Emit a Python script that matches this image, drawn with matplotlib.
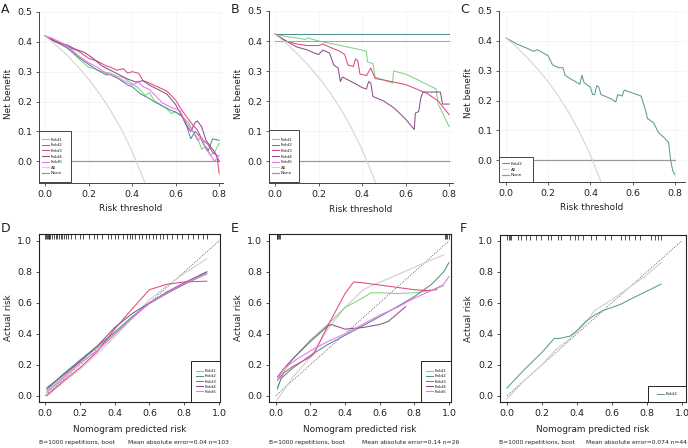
import matplotlib
matplotlib.use('Agg')
import matplotlib.pyplot as plt
from matplotlib.patches import Rectangle

plt.rcParams['font.family'] = 'DejaVu Sans'

W, H = 688, 448

fold_names = ['Fold1', 'Fold2', 'Fold3', 'Fold4', 'Fold5']
fold_colors = {'Fold1': '#7ed47e', 'Fold2': '#4f8f8f', 'Fold3': '#e04a7c',
               'Fold4': '#8c4f8c', 'Fold5': '#f36ef3'}
all_color = '#d2d2d2'
none_color = '#9a9a9a'
text_color = '#222222'

# ---- decision curves (net benefit vs risk threshold) ----
none_x = [0.0, 0.8]
none_y = [0.0, 0.0]

# panel A
a_fold1_x = [0, 0.03, 0.06, 0.1, 0.13, 0.16, 0.2, 0.23, 0.26, 0.3, 0.33, 0.36, 0.4, 0.43, 0.46, 0.48,
             0.5, 0.53, 0.56, 0.58, 0.6, 0.63, 0.66, 0.68, 0.7, 0.72, 0.74, 0.76, 0.78, 0.8]
a_fold1_y = [0.42, 0.405, 0.395, 0.38, 0.36, 0.34, 0.315, 0.31, 0.30, 0.295, 0.285, 0.28, 0.26, 0.245,
             0.22, 0.23, 0.205, 0.19, 0.175, 0.16, 0.165, 0.15, 0.13, 0.1, 0.08, 0.04, 0.05, 0.02, 0.03, 0.06]
a_fold2_x = [0, 0.04, 0.08, 0.12, 0.16, 0.2, 0.24, 0.28, 0.3, 0.34, 0.38, 0.4, 0.44, 0.48, 0.5, 0.54,
             0.58, 0.6, 0.63, 0.65, 0.67, 0.69, 0.71, 0.73, 0.75, 0.77, 0.8]
a_fold2_y = [0.42, 0.405, 0.39, 0.37, 0.345, 0.325, 0.305, 0.29, 0.29, 0.275, 0.255, 0.25, 0.225, 0.21,
             0.2, 0.185, 0.17, 0.165, 0.15, 0.12, 0.075, 0.1, 0.085, 0.055, 0.035, 0.075, 0.07]
a_fold3_x = [0, 0.05, 0.1, 0.15, 0.2, 0.24, 0.28, 0.3, 0.33, 0.36, 0.38, 0.4, 0.43, 0.45, 0.47, 0.5,
             0.53, 0.56, 0.6, 0.63, 0.66, 0.68, 0.7, 0.72, 0.75, 0.77, 0.79, 0.8]
a_fold3_y = [0.42, 0.40, 0.385, 0.37, 0.345, 0.335, 0.32, 0.315, 0.305, 0.31, 0.295, 0.30, 0.295, 0.27,
             0.265, 0.255, 0.245, 0.235, 0.205, 0.17, 0.14, 0.12, 0.105, 0.075, 0.055, 0.03, 0.02, -0.04]
a_fold4_x = [0, 0.05, 0.1, 0.14, 0.18, 0.22, 0.26, 0.3, 0.34, 0.38, 0.42, 0.45, 0.48, 0.52, 0.56, 0.6,
             0.63, 0.65, 0.67, 0.69, 0.7, 0.72, 0.74, 0.76, 0.78, 0.8]
a_fold4_y = [0.42, 0.40, 0.39, 0.375, 0.365, 0.345, 0.32, 0.305, 0.29, 0.275, 0.265, 0.27, 0.255, 0.24,
             0.225, 0.19, 0.15, 0.12, 0.10, 0.13, 0.135, 0.115, 0.07, 0.05, 0.03, 0.0]
a_fold5_x = [0, 0.04, 0.08, 0.12, 0.16, 0.2, 0.24, 0.28, 0.32, 0.36, 0.4, 0.43, 0.45, 0.48, 0.5, 0.54,
             0.58, 0.6, 0.62, 0.64, 0.66, 0.68, 0.7, 0.72, 0.74, 0.76, 0.78, 0.8]
a_fold5_y = [0.42, 0.41, 0.395, 0.375, 0.35, 0.33, 0.315, 0.295, 0.285, 0.27, 0.255, 0.265, 0.25, 0.24,
             0.225, 0.195, 0.18, 0.175, 0.17, 0.14, 0.12, 0.1, 0.07, 0.08, 0.04, 0.02, 0.0, 0.02]
a_all_x = [0, 0.05, 0.1, 0.15, 0.2, 0.25, 0.3, 0.35, 0.4, 0.45, 0.46]
a_all_y = [0.42, 0.389, 0.356, 0.318, 0.275, 0.227, 0.171, 0.108, 0.033, -0.055, -0.074]

# panel B
b_fold1_x = [0, 0.05, 0.1, 0.14, 0.15, 0.2, 0.3, 0.4, 0.42, 0.425, 0.45, 0.46, 0.5, 0.54, 0.545,
             0.6, 0.7, 0.74, 0.75, 0.8]
b_fold1_y = [0.423, 0.415, 0.41, 0.405, 0.41, 0.40, 0.385, 0.37, 0.365, 0.33, 0.325, 0.28, 0.27, 0.26,
             0.30, 0.29, 0.255, 0.24, 0.19, 0.115]
b_fold2_x = [0, 0.8]
b_fold2_y = [0.423, 0.423]
b_fold3_x = [0, 0.05, 0.1, 0.15, 0.2, 0.22, 0.25, 0.3, 0.32, 0.335, 0.36, 0.37, 0.38, 0.39, 0.42, 0.44,
             0.46, 0.5, 0.6, 0.7, 0.75, 0.8]
b_fold3_y = [0.423, 0.40, 0.39, 0.385, 0.385, 0.39, 0.38, 0.365, 0.355, 0.32, 0.315, 0.34, 0.335, 0.29,
             0.285, 0.31, 0.275, 0.27, 0.255, 0.225, 0.20, 0.155]
b_fold4_x = [0, 0.05, 0.1, 0.15, 0.18, 0.2, 0.22, 0.25, 0.27, 0.29, 0.3, 0.31, 0.35, 0.4, 0.42, 0.43,
             0.44, 0.45, 0.5, 0.55, 0.6, 0.64, 0.645, 0.66, 0.67, 0.68, 0.76, 0.77, 0.8]
b_fold4_y = [0.423, 0.40, 0.38, 0.37, 0.36, 0.355, 0.37, 0.36, 0.32, 0.31, 0.265, 0.28, 0.265, 0.245,
             0.24, 0.265, 0.26, 0.215, 0.20, 0.175, 0.14, 0.105, 0.16, 0.165, 0.21, 0.23, 0.23, 0.19, 0.19]
b_fold5_x = [0, 0.8]
b_fold5_y = [0.40, 0.40]
b_all_x = [0, 0.05, 0.1, 0.15, 0.2, 0.25, 0.3, 0.35, 0.4, 0.45, 0.465]
b_all_y = [0.423, 0.393, 0.359, 0.321, 0.279, 0.231, 0.176, 0.112, 0.038, -0.049, -0.078]

# panel C
c_fold2_x = [0, 0.05, 0.1, 0.13, 0.15, 0.2, 0.22, 0.25, 0.27, 0.28, 0.3, 0.35, 0.36, 0.37, 0.4, 0.41,
             0.42, 0.43, 0.44, 0.45, 0.5, 0.52, 0.53, 0.55, 0.56, 0.6, 0.64, 0.66, 0.67, 0.7, 0.72,
             0.75, 0.77, 0.78, 0.79, 0.8]
c_fold2_y = [0.41, 0.39, 0.375, 0.365, 0.37, 0.35, 0.32, 0.31, 0.31, 0.285, 0.275, 0.255, 0.285, 0.26,
             0.245, 0.22, 0.22, 0.25, 0.245, 0.22, 0.205, 0.195, 0.22, 0.215, 0.235, 0.225, 0.215, 0.17,
             0.14, 0.125, 0.095, 0.075, 0.06, 0.0, -0.035, -0.048]
c_all_x = [0, 0.05, 0.1, 0.15, 0.2, 0.25, 0.3, 0.35, 0.4, 0.44, 0.45]
c_all_y = [0.41, 0.379, 0.344, 0.306, 0.2625, 0.213, 0.157, 0.092, 0.017, -0.054, -0.073]

# ---- calibration curves ----
ideal = [0.0, 1.0]

d_x = [0.01, 0.1, 0.2, 0.3, 0.4, 0.5, 0.6, 0.7, 0.8, 0.93]
d_fold1_y = [0.03, 0.12, 0.22, 0.31, 0.40, 0.50, 0.60, 0.665, 0.72, 0.785]
d_fold2_y = [0.04, 0.135, 0.23, 0.32, 0.41, 0.51, 0.595, 0.66, 0.72, 0.80]
d_fold3_y = [0.00, 0.09, 0.18, 0.285, 0.43, 0.56, 0.685, 0.72, 0.735, 0.74]
d_fold4_y = [0.05, 0.13, 0.22, 0.32, 0.44, 0.53, 0.60, 0.67, 0.73, 0.80]
d_fold5_y = [0.02, 0.11, 0.21, 0.29, 0.395, 0.50, 0.60, 0.665, 0.725, 0.79]
d_apparent_y = [0.0, 0.08, 0.17, 0.27, 0.38, 0.50, 0.62, 0.71, 0.79, 0.885]
d_rug = [0.0, 0.005, 0.01, 0.015, 0.02, 0.025, 0.03, 0.04, 0.05, 0.06, 0.07, 0.08, 0.09, 0.1, 0.11,
         0.12, 0.13, 0.15, 0.17, 0.2, 0.22, 0.25, 0.28, 0.3, 0.33, 0.36, 0.38, 0.4, 0.42, 0.45, 0.47,
         0.49, 0.5, 0.52, 0.54, 0.56, 0.58, 0.6, 0.62, 0.64, 0.66, 0.68, 0.7, 0.73, 0.76, 0.79, 0.82,
         0.85, 0.88, 0.91, 0.93]

e_fold1_x = [0.01, 0.02, 0.05, 0.1, 0.2, 0.3, 0.4, 0.5, 0.55, 0.6, 0.7, 0.8, 0.9, 0.97]
e_fold1_y = [0.04, 0.08, 0.16, 0.24, 0.36, 0.46, 0.57, 0.63, 0.665, 0.665, 0.66, 0.665, 0.68, 0.71]
e_fold2_x = [0.01, 0.03, 0.1, 0.2, 0.3, 0.4, 0.5, 0.6, 0.7, 0.8, 0.9, 0.97, 1.0]
e_fold2_y = [0.05, 0.11, 0.18, 0.26, 0.33, 0.39, 0.45, 0.51, 0.575, 0.64, 0.72, 0.80, 0.86]
e_fold3_x = [0.01, 0.05, 0.1, 0.2, 0.22, 0.3, 0.4, 0.45, 0.5, 0.6, 0.7, 0.8, 0.87, 0.93]
e_fold3_y = [0.10, 0.15, 0.19, 0.25, 0.27, 0.45, 0.66, 0.735, 0.73, 0.715, 0.70, 0.685, 0.68, 0.685]
e_fold4_x = [0.01, 0.05, 0.1, 0.2, 0.3, 0.32, 0.4, 0.5, 0.6, 0.65, 0.75]
e_fold4_y = [0.12, 0.18, 0.24, 0.35, 0.45, 0.46, 0.43, 0.44, 0.46, 0.48, 0.575]
e_fold5_x = [0.01, 0.05, 0.1, 0.2, 0.3, 0.4, 0.5, 0.6, 0.7, 0.8, 0.9, 0.97, 1.0]
e_fold5_y = [0.10, 0.18, 0.22, 0.29, 0.35, 0.40, 0.46, 0.52, 0.57, 0.63, 0.68, 0.72, 0.77]
e_apparent_x = [0.006, 0.1, 0.2, 0.3, 0.4, 0.5, 0.55, 0.7, 0.8, 0.97]
e_apparent_y = [-0.03, 0.12, 0.25, 0.43, 0.57, 0.68, 0.71, 0.78, 0.83, 0.91]
e_rug = [0.005, 0.01, 0.015, 0.02, 0.025, 0.975, 0.985, 0.99, 1.0]

f_fold2_x = [0.0, 0.1, 0.2, 0.27, 0.3, 0.36, 0.4, 0.45, 0.5, 0.55, 0.6, 0.65, 0.7, 0.8, 0.88]
f_fold2_y = [0.05, 0.17, 0.28, 0.37, 0.37, 0.385, 0.42, 0.48, 0.52, 0.55, 0.57, 0.59, 0.62, 0.675, 0.72]
f_apparent_x = [0.0, 0.1, 0.2, 0.28, 0.35, 0.45, 0.5, 0.6, 0.7, 0.8, 0.88]
f_apparent_y = [-0.02, 0.1, 0.2, 0.30, 0.36, 0.47, 0.55, 0.62, 0.70, 0.78, 0.86]
f_rug = [0.002, 0.01, 0.017, 0.025, 0.063, 0.082, 0.11, 0.13, 0.168, 0.196, 0.234, 0.253, 0.291, 0.31,
         0.358, 0.387, 0.406, 0.434, 0.482, 0.51, 0.558, 0.596, 0.653, 0.672, 0.70, 0.73, 0.758, 0.825,
         0.844, 0.863, 0.882]

footer_left = 'B=1000 repetitions, boot'
d_footer = 'Mean absolute error=0.04 n=103'
e_footer = 'Mean absolute error=0.14 n=26'
f_footer = 'Mean absolute error=0.074 n=44'


def px_axes(fig, x0, y0, x1, y1):
    return fig.add_axes([x0 / W, 1 - y1 / H, (x1 - x0) / W, (y1 - y0) / H])


def box_legend(fig, ax, box, anchor, handles, labels, spacing, edge):
    # white box drawn inside the axes so the legend can sit on top of it
    x0, y0, x1, y1 = box
    ax.add_patch(Rectangle((x0 / W, 1 - y1 / H), (x1 - x0) / W, (y1 - y0) / H,
                           transform=fig.transFigure, facecolor='white',
                           edgecolor=edge, lw=0.7, zorder=5, clip_on=False))
    leg = ax.legend(handles, labels, loc='center left',
                    bbox_to_anchor=(anchor[0] / W, 1 - anchor[1] / H),
                    bbox_transform=fig.transFigure, frameon=False, fontsize=3.2,
                    handlelength=1.6, handletextpad=0.4, labelspacing=spacing,
                    borderpad=0, borderaxespad=0)
    leg.set_zorder(6)
    for t in leg.get_texts():
        t.set_color(text_color)
    return leg


def dca_panel(ax, curves, all_x, all_y, xlim):
    handles = []
    labels = []
    for name, x, y in curves:
        h, = ax.plot(x, y, color=fold_colors[name], lw=0.75)
        handles.append(h)
        labels.append(name)
    h_all, = ax.plot(all_x, all_y, color=all_color, lw=0.75)
    h_none, = ax.plot(none_x, none_y, color=none_color, lw=0.9, zorder=1)
    handles += [h_all, h_none]
    labels += ['All', 'None']
    ax.set_xlim(xlim)
    ax.set_ylim(-0.073, 0.5)
    ax.set_xticks([0.0, 0.2, 0.4, 0.6, 0.8])
    ax.set_yticks([0.0, 0.1, 0.2, 0.3, 0.4, 0.5])
    ax.xaxis.set_major_formatter('{x:.1f}')
    ax.yaxis.set_major_formatter('{x:.1f}')
    ax.grid(color='#f1f1f1', lw=0.5)
    ax.set_axisbelow(True)
    for s in ['top', 'right']:
        ax.spines[s].set_visible(False)
    for s in ['left', 'bottom']:
        ax.spines[s].set_color('#444444')
        ax.spines[s].set_linewidth(0.7)
    ax.tick_params(labelsize=6.8, length=2.5, width=0.6, color='#444444',
                   labelcolor=text_color, pad=2.5)
    ax.set_xlabel('Risk threshold', fontsize=6.4, color=text_color)
    ax.set_ylabel('Net benefit', fontsize=6.4, color=text_color)
    ax.xaxis.set_label_coords(0.5, -0.125)
    ax.yaxis.set_label_coords(-0.14, 0.52)
    return handles, labels


def cal_panel(ax, curves, app_x, app_y, rug, xlim, ylim):
    handles = []
    labels = []
    ax.plot(ideal, ideal, color='#444444', lw=0.6, ls=(0, (1, 1.6)), zorder=1)
    ax.plot(app_x, app_y, color='#cfcfcf', lw=0.8, zorder=2)
    for name, x, y in curves:
        h, = ax.plot(x, y, color=fold_colors[name], lw=0.75, zorder=3)
        handles.append(h)
        labels.append(name)
    ax.vlines(rug, 0.972, 1.0, transform=ax.get_xaxis_transform(), color='#222222', lw=0.55)
    ax.set_xlim(xlim)
    ax.set_ylim(ylim)
    ax.set_xticks([0.0, 0.2, 0.4, 0.6, 0.8, 1.0])
    ax.set_yticks([0.0, 0.2, 0.4, 0.6, 0.8, 1.0])
    ax.xaxis.set_major_formatter('{x:.1f}')
    ax.yaxis.set_major_formatter('{x:.1f}')
    for s in ax.spines.values():
        s.set_color('#222222')
        s.set_linewidth(0.8)
    ax.tick_params(labelsize=6.8, length=2.5, width=0.6, color='#333333',
                   labelcolor=text_color, pad=2.5)
    ax.set_xlabel('Nomogram predicted risk', fontsize=6.4, color=text_color)
    ax.set_ylabel('Actual risk', fontsize=6.4, color=text_color)
    ax.xaxis.set_label_coords(0.5, -0.135)
    ax.yaxis.set_label_coords(-0.145, 0.5)
    return handles, labels


fig = plt.figure(figsize=(W / 100, H / 100), dpi=100)

# top row
ax_a = px_axes(fig, 39, 12, 223, 183)
hl = dca_panel(ax_a, [('Fold1', a_fold1_x, a_fold1_y), ('Fold2', a_fold2_x, a_fold2_y),
                      ('Fold3', a_fold3_x, a_fold3_y), ('Fold4', a_fold4_x, a_fold4_y),
                      ('Fold5', a_fold5_x, a_fold5_y)], a_all_x, a_all_y, (-0.028, 0.818))
box_legend(fig, ax_a, (39, 131, 71, 182), (42, 156.5), *hl, 0.33, '#444444')

ax_b = px_axes(fig, 269, 11, 453, 183)
hl = dca_panel(ax_b, [('Fold1', b_fold1_x, b_fold1_y), ('Fold2', b_fold2_x, b_fold2_y),
                      ('Fold3', b_fold3_x, b_fold3_y), ('Fold4', b_fold4_x, b_fold4_y),
                      ('Fold5', b_fold5_x, b_fold5_y)], b_all_x, b_all_y, (-0.028, 0.818))
box_legend(fig, ax_b, (269, 130, 299, 182), (272, 156.5), *hl, 0.33, '#444444')

ax_c = px_axes(fig, 499, 11, 685, 182)
hl = dca_panel(ax_c, [('Fold2', c_fold2_x, c_fold2_y)], c_all_x, c_all_y, (-0.033, 0.848))
ax_c.lines[0].set_color('#5a9a98')
box_legend(fig, ax_c, (499, 157, 533, 182), (502, 169.5), *hl, 0.33, '#444444')

# bottom row
ax_d = px_axes(fig, 39, 234, 220, 402)
hl = cal_panel(ax_d, [('Fold1', d_x, d_fold1_y), ('Fold2', d_x, d_fold2_y),
                      ('Fold3', d_x, d_fold3_y), ('Fold4', d_x, d_fold4_y),
                      ('Fold5', d_x, d_fold5_y)], d_x, d_apparent_y, d_rug,
               (-0.035, 1.006), (-0.041, 1.045))
box_legend(fig, ax_d, (191, 361, 220, 402), (196, 381.5), *hl, 0.24, '#222222')

ax_e = px_axes(fig, 269, 234, 451, 402)
hl = cal_panel(ax_e, [('Fold1', e_fold1_x, e_fold1_y), ('Fold2', e_fold2_x, e_fold2_y),
                      ('Fold3', e_fold3_x, e_fold3_y), ('Fold4', e_fold4_x, e_fold4_y),
                      ('Fold5', e_fold5_x, e_fold5_y)], e_apparent_x, e_apparent_y, e_rug,
               (-0.039, 1.012), (-0.041, 1.045))
box_legend(fig, ax_e, (421, 361, 451, 402), (426, 381.5), *hl, 0.24, '#222222')

ax_f = px_axes(fig, 500, 235, 686, 402)
hl = cal_panel(ax_f, [('Fold2', f_fold2_x, f_fold2_y)], f_apparent_x, f_apparent_y, f_rug,
               (-0.04, 1.023), (-0.04, 1.037))
ax_f.lines[2].set_color('#5a9a98')
box_legend(fig, ax_f, (648, 386, 686, 402), (657, 394), *hl, 0.24, '#222222')

# footers
for left, right, txt in [(39, 229, d_footer), (269, 459, e_footer), (499, 687, f_footer)]:
    fig.text(left / W, 1 - 442 / H, footer_left, fontsize=4.3, color=text_color, va='center')
    fig.text(right / W, 1 - 442 / H, txt, fontsize=4.3, color=text_color, va='center', ha='right')

# panel letters
for x, y, letter in [(1, 3, 'A'), (231, 3, 'B'), (460, 3, 'C'),
                     (1, 222, 'D'), (231, 222, 'E'), (460, 222, 'F')]:
    fig.text(x / W, 1 - y / H, letter, fontsize=9, color=text_color, va='top', ha='left')

fig.savefig('out.png', dpi=100)
